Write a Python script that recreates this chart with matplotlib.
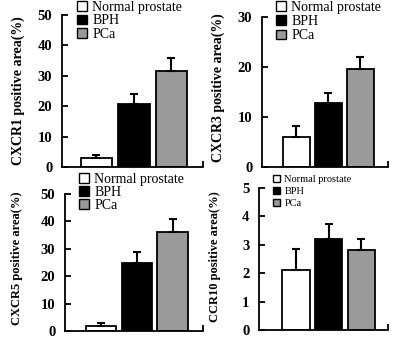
import matplotlib.pyplot as plt
from matplotlib.patches import Patch

plt.rcParams['font.family'] = ['Liberation Serif', 'DejaVu Serif']

groups = ["Normal prostate", "BPH", "PCa"]
colors = ["white", "black", "#9a9a9a"]

cxcr1 = [3.0, 20.7, 31.6]
cxcr1_err = [1.0, 3.3, 4.2]
cxcr3 = [6.0, 12.8, 19.6]
cxcr3_err = [2.2, 2.0, 2.4]
cxcr5 = [2.0, 24.8, 36.3]
cxcr5_err = [0.8, 4.0, 4.7]
ccr10 = [2.1, 3.2, 2.8]
ccr10_err = [0.75, 0.55, 0.4]

W, H = 394, 338
fig = plt.figure(figsize=(W / 100, H / 100), dpi=100)

# (left, right, top, bottom) in pixels, ylim, yticks, xlim, label, label x/y/size,
# legend pos, legend size, spacing
panels = [
    (cxcr1, cxcr1_err, (62, 203, 15, 167), 50, [0, 10, 20, 30, 40, 50], (0.08, 3.85),
     "CXCR1 positive area(%)", (18, 91, 10), (77, 1), 10, 0.02),
    (cxcr3, cxcr3_err, (262, 388, 17, 167), 30, [0, 10, 20, 30], (-0.08, 3.875),
     "CXCR3 positive area(%)", (218, 88, 10), (276, 1), 10, 0.08),
    (cxcr5, cxcr5_err, (65, 203, 194, 331), 50, [0, 10, 20, 30, 40, 50], (0.0, 3.85),
     "CXCR5 positive area(%)", (17, 258, 9), (79, 173), 10, 0.0),
    (ccr10, ccr10_err, (259, 388, 188, 330), 5, [0, 1, 2, 3, 4, 5], (-0.13, 3.81),
     "CCR10 positive area(%)", (215, 257, 9), (273, 175), 7.5, 0.25),
]

for vals, errs, (l, r, t, b), ymax, ticks, xlim, lab, (lx, ly, ls), lpos, lsize, lsp in panels:
    ax = fig.add_axes([l / W, 1 - b / H, (r - l) / W, (b - t) / H])
    x = [1, 2, 3]
    ax.bar(x, vals, width=0.84, color=colors, edgecolor="black", linewidth=1.3,
           yerr=[[0, 0, 0], errs], capsize=3,
           error_kw=dict(elinewidth=1.5, capthick=1.5, ecolor="black"), zorder=2)
    ax.set_ylim(0, ymax)
    ax.set_xlim(*xlim)
    ax.set_yticks(ticks)
    ax.set_xticks([xlim[1]])
    ax.set_xticklabels([""])
    ax.tick_params(axis="y", direction="in", length=4, width=1.3, pad=7, labelsize=10.5)
    ax.tick_params(axis="x", direction="in", length=4, width=1.3)
    for lbl in ax.get_yticklabels():
        lbl.set_fontweight("bold")
    for s in ["top", "right"]:
        ax.spines[s].set_visible(False)
    for s in ["left", "bottom"]:
        ax.spines[s].set_linewidth(1.3)
    fig.text(lx / W, 1 - ly / H, lab, rotation=90, ha="center",
             va="center", fontsize=ls, fontweight="bold")
    handles = [Patch(facecolor=c, edgecolor="black", linewidth=1.0) for c in colors]
    fig.legend(handles, groups, loc="upper left",
               bbox_to_anchor=(lpos[0] / W, 1 - lpos[1] / H), frameon=False,
               fontsize=lsize, handlelength=0.7, handleheight=0.7, handletextpad=0.4,
               labelspacing=lsp, borderpad=0, borderaxespad=0)

fig.savefig("out.png", dpi=100)
